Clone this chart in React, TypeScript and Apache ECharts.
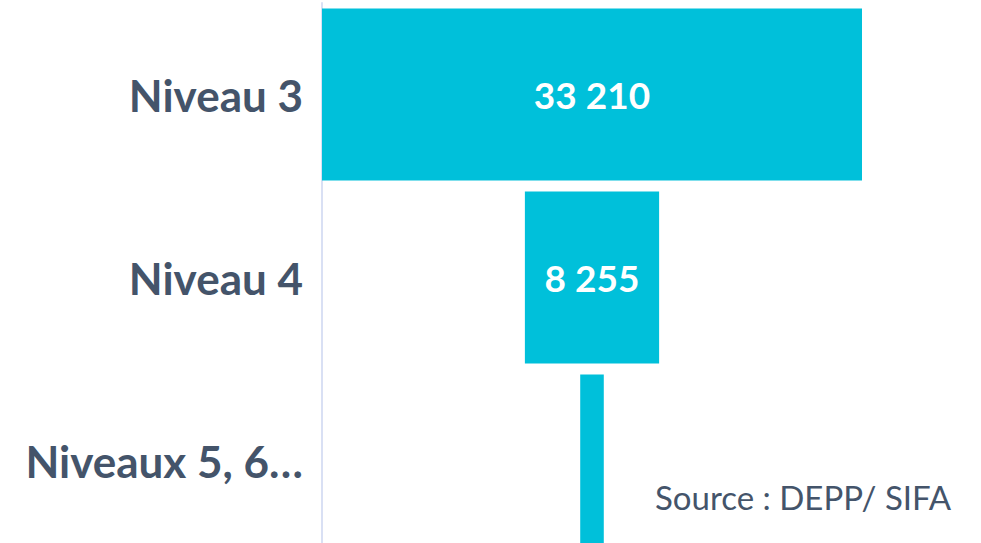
import React, { useEffect, useRef } from "react";
import * as echarts from "echarts";

const categories = ["Niveau 3", "Niveau 4", "Niveaux 5, 6…"];
const values = [33210, 8255, 1450];
const showValueLabel = [true, true, false];
const sourceText = "Source : DEPP/ SIFA";

const maxValue = Math.max(...values);
const offsets = values.map((v) => (maxValue - v) / 2);
const fmt = (n: number) => String(n).replace(/\B(?=(\d{3})+(?!\d))/g, " ");

export default function App() {
  const ref = useRef<HTMLDivElement>(null);
  useEffect(() => {
    if (!ref.current) return;
    const chart = echarts.init(ref.current, undefined, { renderer: "svg" });
    chart.setOption({
      animation: false,
      backgroundColor: "#ffffff",
      grid: { left: 322, width: 540, top: 3, bottom: 0, containLabel: false },
      xAxis: {
        type: "value",
        min: 0,
        max: maxValue,
        show: false,
      },
      yAxis: {
        type: "category",
        inverse: true,
        data: categories,
        axisLine: { show: true, lineStyle: { color: "#d9e0f4", width: 2 } },
        axisTick: { show: false },
        axisLabel: {
          margin: 19,
          color: "#44546a",
          fontFamily: "Lato",
          fontWeight: "bold",
          fontSize: 44,
        },
      },
      series: [
        {
          type: "bar",
          stack: "f",
          data: offsets,
          barWidth: 172,
          itemStyle: { color: "transparent" },
          silent: true,
        },
        {
          type: "bar",
          stack: "f",
          barWidth: 172,
          data: values.map((v, i) => ({
            value: v,
            label: { show: showValueLabel[i] },
          })),
          itemStyle: { color: "#00c0da" },
          label: {
            show: true,
            position: "inside",
            color: "#ffffff",
            fontFamily: "Lato",
            fontWeight: "bold",
            fontSize: 37,
            formatter: (p: any) => fmt(p.value),
          },
        },
      ],
      graphic: [
        {
          type: "text",
          left: 655,
          top: 480,
          style: {
            text: sourceText,
            fill: "#44546a",
            font: "33px Lato",
          },
        },
      ],
    });
    return () => chart.dispose();
  }, []);
  return (
    <div
      ref={ref}
      style={{ position: "fixed", left: 0, top: 0, width: 981, height: 552 }}
    />
  );
}
